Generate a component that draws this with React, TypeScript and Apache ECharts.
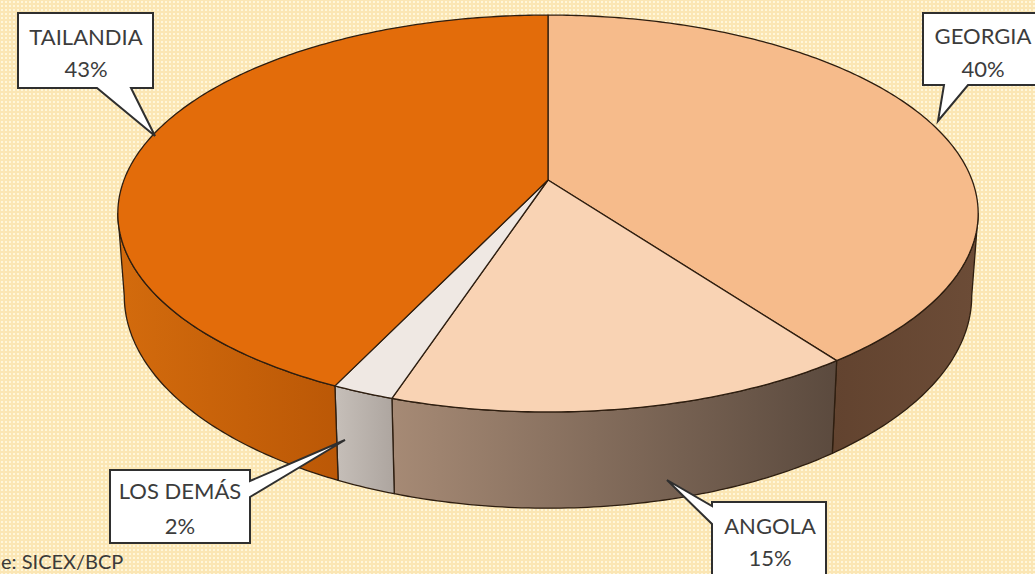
import React, { useEffect, useRef } from "react";
import * as echarts from "echarts";

// ---------- data ----------
const categories = ["GEORGIA", "ANGOLA", "LOS DEMÁS", "TAILANDIA"];
const values = [40, 15, 2, 43];
// the reference only shows the tail of the source note (cut at the left edge)
const sourceNote = "e: SICEX/BCP";

// ---------- styles ----------
const topColors = ["#F6BB8B", "#F9D3B4", "#EFE8E3", "#E36C0A"];
const sideColors = [
  ["#62432F", "#6C4C37"],
  ["#A68A75", "#5B4A3E"],
  ["#C6BFB9", "#ADA59F"],
  ["#D36B0D", "#BB5806"],
];
const EDGE = "#2E1E10";

// ---------- layout (perspective disc) ----------
const PIE = { X0: 548, Y0: 180, A: 424, B: 192.8, k: 0.1688, H: 80, s: 0.985 };

// callout outlines (box + pointer) and label anchor positions [x, yName, yValue]
const calloutShapes = [
  [[923, 13], [1045, 13], [1045, 85], [968, 85], [938, 121], [944, 85], [923, 85]],
  [[712, 502], [826, 502], [826, 600], [712, 600], [712, 524], [667, 480], [712, 506]],
  [[110, 470], [250, 470], [250, 481], [345, 440], [250, 497], [250, 543], [110, 543]],
  [[18, 13], [153, 13], [153, 88], [131, 88], [155, 136], [97, 88], [18, 88]],
];
const labelPos = [
  [983, 35, 68],
  [770, 525, 557],
  [180, 490, 525],
  [86, 36, 68],
];

const FONT = "Lato, 'Liberation Sans', sans-serif";

function project(thetaDeg: number, bottom: boolean): number[] {
  const t = (thetaDeg * Math.PI) / 180;
  const u = Math.sin(t);
  const v = Math.cos(t);
  const w = 1 + PIE.k * v;
  let x = PIE.X0 + (PIE.A * u) / w;
  let y = PIE.Y0 - (PIE.B * v) / w;
  if (bottom) {
    x = PIE.X0 + (x - PIE.X0) * PIE.s;
    y += PIE.H / w;
  }
  return [x, y];
}

function arc(a: number, b: number, bottom: boolean): number[][] {
  const n = Math.max(2, Math.ceil(Math.abs(b - a) / 0.75));
  const pts: number[][] = [];
  for (let j = 0; j <= n; j++) pts.push(project(a + ((b - a) * j) / n, bottom));
  return pts;
}

const total = values.reduce((s, v) => s + v, 0);
function sliceAngles(i: number, v: number): [number, number] {
  const before = values.slice(0, i).reduce((s, x) => s + x, 0);
  const start = (before / total) * 360;
  return [start, start + (v / total) * 360];
}

// silhouette angles where the side wall turns away
const silA = (Math.acos(-PIE.k) * 180) / Math.PI; // ~99.7
const silB = 360 - silA; // ~260.3

export default function App() {
  const ref = useRef<HTMLDivElement>(null);

  useEffect(() => {
    if (!ref.current) return;
    const chart = echarts.init(ref.current, undefined, { renderer: "svg" });

    const data = values.map((v, i) => ({ name: categories[i], value: [i, v] }));

    const graphics: any[] = [];
    calloutShapes.forEach((pts, i) => {
      graphics.push({
        type: "polygon",
        z: 10,
        shape: { points: pts },
        style: { fill: "#FFFFFF", stroke: "#2F2F2F", lineWidth: 2, lineJoin: "miter" },
      });
      const [x, y1, y2] = labelPos[i];
      graphics.push({
        type: "text",
        z: 11,
        x,
        y: y1,
        style: {
          text: categories[i],
          fill: "#3C3C3C",
          font: `22px ${FONT}`,
          align: "center",
          verticalAlign: "middle",
        },
      });
      graphics.push({
        type: "text",
        z: 11,
        x,
        y: y2,
        style: {
          text: `${values[i]}%`,
          fill: "#3C3C3C",
          font: `22px ${FONT}`,
          align: "center",
          verticalAlign: "middle",
        },
      });
    });
    graphics.push({
      type: "text",
      z: 11,
      x: 1,
      y: 561,
      style: {
        text: sourceNote,
        fill: "#3A3A3A",
        font: `20px ${FONT}`,
        align: "left",
        verticalAlign: "middle",
      },
    });

    chart.setOption({
      animation: false,
      backgroundColor: "transparent",
      graphic: graphics,
      series: [
        {
          type: "custom",
          name: "sides",
          coordinateSystem: "none",
          z: 1,
          silent: true,
          data,
          renderItem: (params: any, api: any) => {
            const i = params.dataIndex;
            const v = api.value(1);
            const [s, e] = sliceAngles(i, v);
            const a = Math.max(s, silA);
            const b = Math.min(e, silB);
            if (b <= a) return { type: "group", children: [] };
            const top = arc(a, b, false);
            const bot = arc(a, b, true).reverse();
            const pts = top.concat(bot);
            return {
              type: "polygon",
              shape: { points: pts },
              style: {
                fill: {
                  type: "linear",
                  x: 0,
                  y: 0,
                  x2: 1,
                  y2: 0,
                  colorStops: [
                    { offset: 0, color: sideColors[i][0] },
                    { offset: 1, color: sideColors[i][1] },
                  ],
                },
                stroke: EDGE,
                lineWidth: 1.3,
                lineJoin: "round",
              },
            };
          },
        },
        {
          type: "custom",
          name: "tops",
          coordinateSystem: "none",
          z: 2,
          silent: true,
          data,
          renderItem: (params: any, api: any) => {
            const i = params.dataIndex;
            const v = api.value(1);
            const [s, e] = sliceAngles(i, v);
            const pts = [[PIE.X0, PIE.Y0]].concat(arc(s, e, false));
            return {
              type: "polygon",
              shape: { points: pts },
              style: {
                fill: topColors[i],
                stroke: EDGE,
                lineWidth: 1.3,
                lineJoin: "round",
              },
            };
          },
        },
      ],
    });

    return () => chart.dispose();
  }, []);

  return (
    <div
      style={{
        position: "absolute",
        left: 0,
        top: 0,
        width: 1035,
        height: 574,
        overflow: "hidden",
        backgroundColor: "#FBE6B4",
        backgroundImage:
          "radial-gradient(circle, rgba(255,248,222,0.9) 0.9px, transparent 1.3px)",
        backgroundSize: "4px 4px",
      }}
    >
      <div ref={ref} style={{ width: 1035, height: 574 }} />
    </div>
  );
}
